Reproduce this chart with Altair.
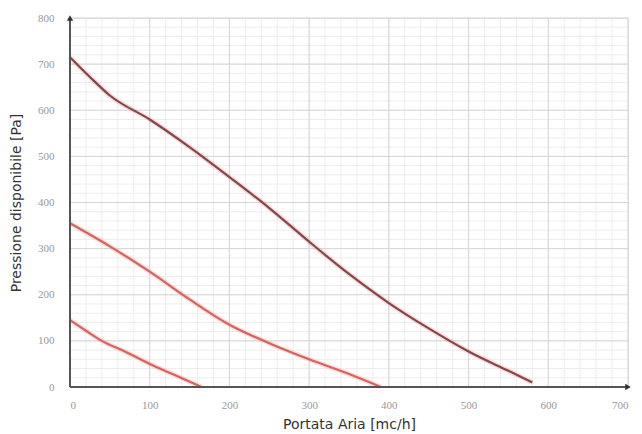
import altair as alt
import pandas as pd

# Curve data
top_x = [0, 25, 50, 100, 150, 200, 250, 300, 350, 400, 450, 500, 550, 580]
top_y = [715, 672, 632, 580, 520, 455, 388, 315, 245, 182, 127, 77, 35, 10]
mid_x = [0, 50, 100, 150, 200, 250, 300, 350, 390]
mid_y = [355, 305, 250, 190, 135, 95, 60, 28, 0]
low_x = [0, 20, 40, 70, 100, 130, 165]
low_y = [145, 122, 100, 76, 50, 27, 0]

x_ticks = [0, 100, 200, 300, 400, 500, 600, 700]
y_ticks = [0, 100, 200, 300, 400, 500, 600, 700, 800]
minor_x = list(range(0, 701, 20))
minor_y = list(range(0, 801, 20))

rows = []
for name, xs, ys in [("top", top_x, top_y), ("mid", mid_x, mid_y), ("low", low_x, low_y)]:
    for i, (a, b) in enumerate(zip(xs, ys)):
        rows.append({"curve": name, "x": a, "y": b, "o": i})
df = pd.DataFrame(rows)

X = alt.X("x:Q", scale=alt.Scale(domain=[0, 700], nice=False),
          axis=alt.Axis(values=x_ticks, title="Portata Aria [mc/h]", grid=False, ticks=False,
                        domain=False, labelPadding=12, titlePadding=7,
                        labelFont="Liberation Serif", labelFontSize=11, labelColor="#999999",
                        titleFont="DejaVu Sans", titleFontSize=14, titleFontWeight="normal",
                        titleColor="#333333"))
Y = alt.Y("y:Q", scale=alt.Scale(domain=[0, 800], nice=False),
          axis=alt.Axis(values=y_ticks, title="Pressione disponibile [Pa]", grid=False, ticks=False,
                        domain=False, labelPadding=16, titlePadding=14,
                        labelFont="Liberation Serif", labelFontSize=11, labelColor="#999999",
                        titleFont="DejaVu Sans", titleFontSize=14, titleFontWeight="normal",
                        titleColor="#333333"))

minor_v = alt.Chart(pd.DataFrame({"x": minor_x})).mark_rule(color="#ededed", strokeWidth=1).encode(x=X)
minor_h = alt.Chart(pd.DataFrame({"y": minor_y})).mark_rule(color="#ededed", strokeWidth=1).encode(y=Y)
major_v = alt.Chart(pd.DataFrame({"x": x_ticks})).mark_rule(color="#d6d6d6", strokeWidth=1).encode(x=X)
major_h = alt.Chart(pd.DataFrame({"y": y_ticks})).mark_rule(color="#d6d6d6", strokeWidth=1).encode(y=Y)

curve_layers = []
styles = {"top": ("#e8a0a0", "#8a4545"), "mid": ("#f2a6a0", "#d8625c"), "low": ("#f2a6a0", "#d8625c")}
for name in ["low", "mid", "top"]:
    sub = df[df["curve"] == name]
    halo_c, line_c = styles[name]
    curve_layers.append(alt.Chart(sub).mark_line(strokeWidth=5, opacity=0.35, color=halo_c,
                                                 interpolate="monotone").encode(x=X, y=Y, order="o:Q"))
    curve_layers.append(alt.Chart(sub).mark_line(strokeWidth=2.2, color=line_c,
                                                 interpolate="monotone").encode(x=X, y=Y, order="o:Q"))

axis_df = pd.DataFrame({"x": [0], "y": [0], "x2": [700], "y2": [800]})
x_axis_line = alt.Chart(axis_df).mark_rule(color="#555555", strokeWidth=2).encode(
    x=X, x2="x2:Q", y=Y)
y_axis_line = alt.Chart(axis_df).mark_rule(color="#555555", strokeWidth=2).encode(
    x=X, y=Y, y2="y2:Q")
arrow_r = alt.Chart(pd.DataFrame({"x": [700], "y": [0]})).mark_point(
    shape="triangle-right", filled=True, color="#333333", size=40, opacity=1).encode(x=X, y=Y)
arrow_u = alt.Chart(pd.DataFrame({"x": [0], "y": [800]})).mark_point(
    shape="triangle-up", filled=True, color="#333333", size=40, opacity=1).encode(x=X, y=Y)

chart = alt.layer(minor_v, minor_h, major_v, major_h, *curve_layers,
                  x_axis_line, y_axis_line, arrow_r, arrow_u).properties(
    width=558, height=369,
    autosize=alt.AutoSizeParams(type="none"),
    padding={"left": 62, "top": 10, "right": 6, "bottom": 48},
).configure_view(stroke=None).configure(background="white")

chart.save("out.html", embed_options={"renderer": "svg", "actions": False})
